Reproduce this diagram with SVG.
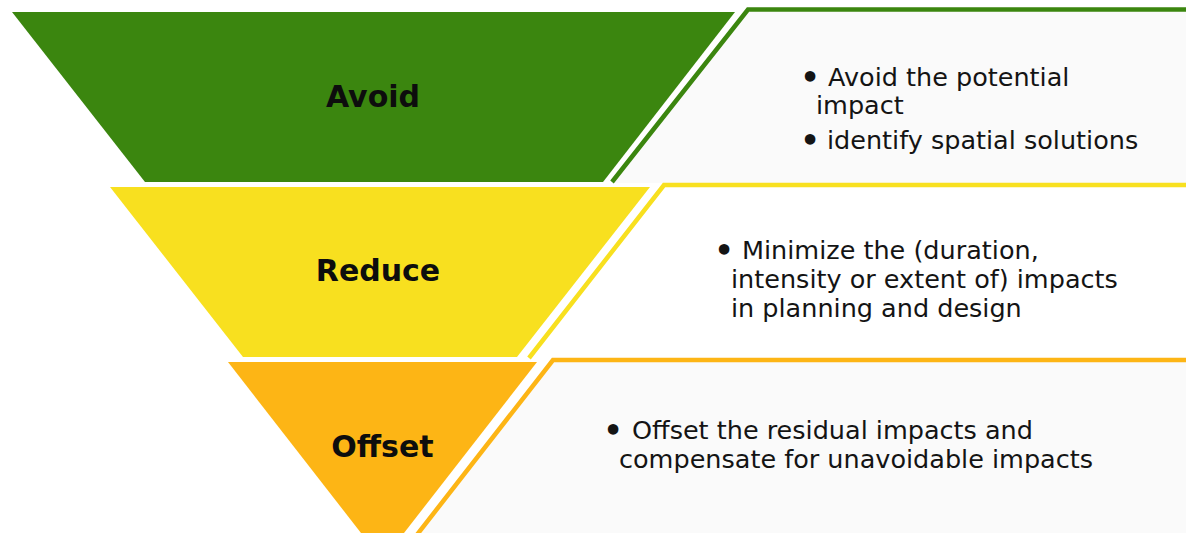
<svg xmlns="http://www.w3.org/2000/svg" width="1186" height="533" viewBox="0 0 1186 533">
<style>
.title{font-family:"DejaVu Sans",Verdana,sans-serif;font-weight:bold;font-size:30px;fill:#0d0d0d;text-anchor:middle}
.body{font-family:"DejaVu Sans",Verdana,sans-serif;font-size:25.5px;fill:#141414}
.bul{font-family:"DejaVu Sans",Verdana,sans-serif;font-size:30px;font-weight:bold;fill:#141414;text-anchor:middle}
.edge{fill:none;stroke-width:4.5;stroke-linejoin:miter}
</style>
<rect width="1186" height="533" fill="#ffffff"/>
<g id="avoid">
  <polygon points="12,12 735,12 603,182 145,182" fill="#3b860f"/>
  <polygon points="748,9.5 1186,9.5 1186,183 613,183" fill="#fafafa"/>
  <polyline class="edge" points="612,182 748,9.5 1190,9.5" stroke="#3b860f"/>
  <text class="title" x="373" y="107">Avoid</text>
  <text class="bul" x="810" y="88">•</text>
  <text class="body" x="828" y="86">Avoid the potential</text>
  <text class="body" x="816" y="114">impact</text>
  <text class="bul" x="810" y="151">•</text>
  <text class="body" x="827" y="149">identify spatial solutions</text>
</g>
<g id="reduce">
  <polygon points="110,187 650,187 517,357 243,357" fill="#f8e01f"/>
  <polygon points="664,185 1186,185 1186,359 530,359" fill="#ffffff"/>
  <polyline class="edge" points="529,358 664,185 1190,185" stroke="#f8e01f"/>
  <text class="title" x="378" y="281">Reduce</text>
  <text class="bul" x="724" y="261">•</text>
  <text class="body" x="742" y="259">Minimize the (duration,</text>
  <text class="body" x="731" y="288">intensity or extent of) impacts</text>
  <text class="body" x="731" y="317">in planning and design</text>
</g>
<g id="offset">
  <polygon points="228,362 537,362 404,533 361,533" fill="#fdb515"/>
  <polygon points="553,360 1186,360 1186,533 418,533" fill="#fafafa"/>
  <polyline class="edge" points="416,536 553,360 1190,360" stroke="#fdb515"/>
  <text class="title" x="382.5" y="457">Offset</text>
  <text class="bul" x="613" y="441">•</text>
  <text class="body" x="632" y="439">Offset the residual impacts and</text>
  <text class="body" x="619" y="468">compensate for unavoidable impacts</text>
</g>
<g id="connectors"></g>
</svg>
